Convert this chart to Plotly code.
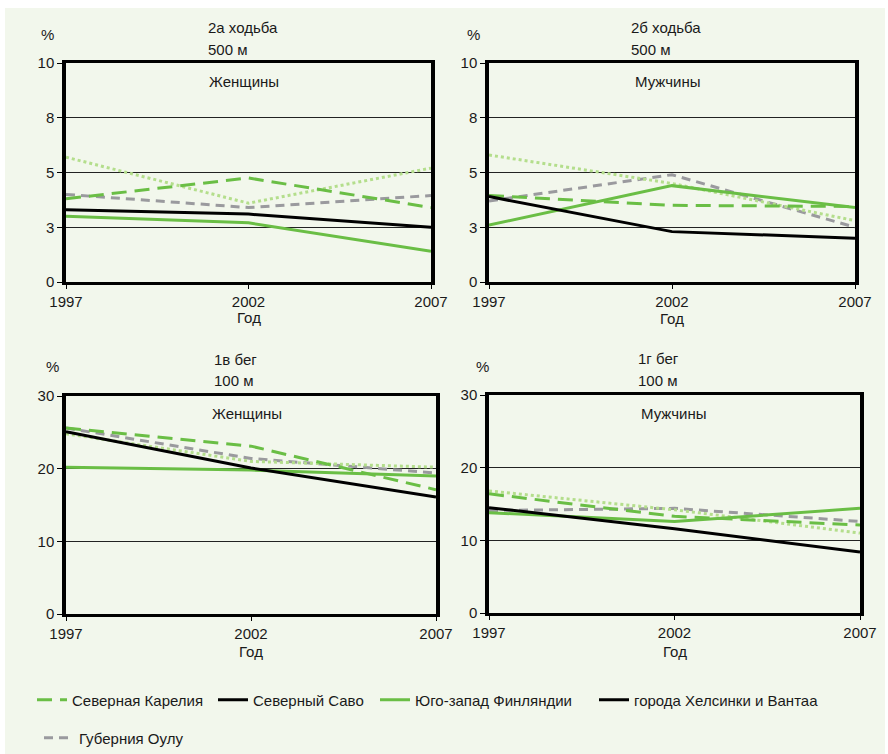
import plotly.graph_objects as go

# Survey years (x axis)
years = [1997, 2002, 2007]

# Series names
regions = ["Северная Карелия", "Северный Саво", "Юго-запад Финляндии",
           "города Хелсинки и Вантаа", "Губерния Оулу"]

# 2а: walking 500 m, women (%)
walk_w_karelia = [3.8, 4.75, 3.4]
walk_w_savo = [3.3, 3.1, 2.5]
walk_w_southwest = [3.0, 2.7, 1.4]
walk_w_helsinki = [5.7, 3.6, 5.2]
walk_w_oulu = [4.0, 3.4, 3.95]

# 2б: walking 500 m, men (%)
walk_m_karelia = [3.95, 3.5, 3.45]
walk_m_savo = [3.9, 2.3, 2.0]
walk_m_southwest = [2.6, 4.4, 3.4]
walk_m_helsinki = [5.8, 4.5, 2.8]
walk_m_oulu = [3.7, 4.9, 2.5]

# 1в: running 100 m, women (%)
run_w_karelia = [25.6, 23.1, 17.1]
run_w_savo = [25.1, 20.1, 16.1]
run_w_southwest = [20.2, 19.8, 19.0]
run_w_helsinki = [24.8, 21.0, 20.2]
run_w_oulu = [25.6, 21.4, 19.4]

# 1г: running 100 m, men (%)
run_m_karelia = [16.4, 13.3, 12.1]
run_m_savo = [14.5, 11.6, 8.4]
run_m_southwest = [13.8, 12.6, 14.4]
run_m_helsinki = [16.8, 14.2, 11.0]
run_m_oulu = [14.1, 14.4, 12.6]

# Axis tick labels
walk_tickvals = [0, 2.5, 5, 7.5, 10]
walk_ticktext = ["0", "3", "5", "8", "10"]
run_tickvals = [0, 10, 20, 30]
run_ticktext = ["0", "10", "20", "30"]

W, H = 888, 754
FONT = "Liberation Sans, Arial, sans-serif"
FS = 15
TXT = "#1a1a1a"
BG = "#f2f7ec"

GREEN = "#6abe45"
LIGHT = "#b4de8c"
GREY = "#9a9a9e"
BLACK = "#000000"


def fx(px):
    return px / W


def fy(py):
    return 1 - py / H


# line styles per region: (colour, dash)
styles = {
    "Северная Карелия": (GREEN, "15px,8px"),
    "Северный Саво": (BLACK, "solid"),
    "Юго-запад Финляндии": (GREEN, "solid"),
    "города Хелсинки и Вантаа": (LIGHT, "dot"),
    "Губерния Оулу": (GREY, "9px,6px"),
}
legend_ids = {
    "Северная Карелия": "legend",
    "Северный Саво": "legend2",
    "Юго-запад Финляндии": "legend3",
    "города Хелсинки и Вантаа": "legend4",
    "Губерния Оулу": "legend5",
}

panels = [
    dict(ax="", series={"Северная Карелия": walk_w_karelia, "Северный Саво": walk_w_savo,
                        "Юго-запад Финляндии": walk_w_southwest,
                        "города Хелсинки и Вантаа": walk_w_helsinki, "Губерния Оулу": walk_w_oulu},
         px=(66, 431), py=(63, 282), ymax=10, tv=walk_tickvals, tt=walk_ticktext,
         title=("2а ходьба", "500 м"), tpos=(206, 27, 49), sub="Женщины", spos=(207, 81),
         pct=(47, 34), god=(317,)),
    dict(ax="2", series={"Северная Карелия": walk_m_karelia, "Северный Саво": walk_m_savo,
                         "Юго-запад Финляндии": walk_m_southwest,
                         "города Хелсинки и Вантаа": walk_m_helsinki, "Губерния Оулу": walk_m_oulu},
         px=(489, 855), py=(63, 282), ymax=10, tv=walk_tickvals, tt=walk_ticktext,
         title=("2б ходьба", "500 м"), tpos=(629, 27, 49), sub="Мужчины", spos=(633, 81),
         pct=(473, 34), god=(318,)),
    dict(ax="3", series={"Северная Карелия": run_w_karelia, "Северный Саво": run_w_savo,
                         "Юго-запад Финляндии": run_w_southwest,
                         "города Хелсинки и Вантаа": run_w_helsinki, "Губерния Оулу": run_w_oulu},
         px=(66, 436), py=(396, 614), ymax=30, tv=run_tickvals, tt=run_ticktext,
         title=("1в бег", "100 м"), tpos=(212, 359, 380), sub="Женщины", spos=(210, 413),
         pct=(52, 366), god=(651,)),
    dict(ax="4", series={"Северная Карелия": run_m_karelia, "Северный Саво": run_m_savo,
                         "Юго-запад Финляндии": run_m_southwest,
                         "города Хелсинки и Вантаа": run_m_helsinki, "Губерния Оулу": run_m_oulu},
         px=(489, 860), py=(395, 613), ymax=30, tv=run_tickvals, tt=run_ticktext,
         title=("1г бег", "100 м"), tpos=(636, 358, 380), sub="Мужчины", spos=(639, 413),
         pct=(482, 366), god=(651,)),
]

draw_order = ["Губерния Оулу", "города Хелсинки и Вантаа", "Северная Карелия",
              "Юго-запад Финляндии", "Северный Саво"]

fig = go.Figure()
annotations = []
layout_axes = {}


def label(text, x, y, xref="paper", xanchor="left"):
    return dict(text=text, x=x, y=y, xref=xref, yref="paper", xanchor=xanchor,
                yanchor="middle", showarrow=False,
                font=dict(family=FONT, size=FS, color=TXT))


for i, p in enumerate(panels):
    xa = "x" + p["ax"]
    ya = "y" + p["ax"]
    for name in draw_order:
        colour, dash = styles[name]
        show = (i == 0) and name != "города Хелсинки и Вантаа"
        fig.add_trace(go.Scatter(
            x=years, y=p["series"][name], name=name, mode="lines",
            line=dict(color=colour, width=3, dash=dash),
            xaxis=xa, yaxis=ya, showlegend=show, legend=legend_ids[name],
            legendgroup=name, hoverinfo="x+y+name",
        ))

    key = p["ax"]
    layout_axes["xaxis" + key] = dict(
        domain=[fx(p["px"][0]), fx(p["px"][1])], anchor=ya, range=[1997, 2007],
        tickvals=years, ticktext=[str(y) for y in years],
        showline=True, linecolor=BLACK, linewidth=2.5, mirror=True,
        ticks="outside", ticklen=4, tickcolor=BLACK, tickwidth=1,
        showgrid=False, zeroline=False, automargin=False,
        tickfont=dict(family=FONT, size=FS, color=TXT), fixedrange=True,
    )
    layout_axes["yaxis" + key] = dict(
        domain=[fy(p["py"][1]), fy(p["py"][0])], anchor=xa, range=[0, p["ymax"]],
        tickvals=p["tv"], ticktext=p["tt"],
        showline=True, linecolor=BLACK, linewidth=3.5, mirror=True,
        ticks="outside", ticklen=5, tickcolor=BLACK, tickwidth=1,
        showgrid=True, gridcolor="#222222", gridwidth=1, zeroline=False, automargin=False,
        tickfont=dict(family=FONT, size=FS, color=TXT), fixedrange=True,
    )

    # panel headings and axis captions
    annotations.append(label(p["title"][0], fx(p["tpos"][0]), fy(p["tpos"][1])))
    annotations.append(label(p["title"][1], fx(p["tpos"][0]), fy(p["tpos"][2])))
    annotations.append(label(p["sub"], fx(p["spos"][0]), fy(p["spos"][1])))
    annotations.append(label("%", fx(p["pct"][0]), fy(p["pct"][1]), xanchor="center"))
    annotations.append(label("Год", 2002, fy(p["god"][0]), xref=xa, xanchor="center"))

# legend-only entry for the Helsinki/Vantaa series
fig.add_trace(go.Scatter(
    x=[None], y=[None], name="города Хелсинки и Вантаа", mode="lines",
    line=dict(color=BLACK, width=3), showlegend=True, legend="legend4",
    legendgroup="города Хелсинки и Вантаа", hoverinfo="skip",
))

legend_base = dict(orientation="h", xanchor="left", yanchor="middle",
                   bgcolor="rgba(0,0,0,0)", borderwidth=0,
                   font=dict(family=FONT, size=FS, color=TXT))
legend_pos = {
    "legend": (32, 700),
    "legend2": (213, 700),
    "legend3": (375, 700),
    "legend4": (594, 700),
    "legend5": (39, 738),
}
for lid, (lx, ly) in legend_pos.items():
    layout_axes[lid] = dict(legend_base, x=fx(lx), y=fy(ly))

fig.update_layout(
    width=W, height=H,
    margin=dict(l=0, r=0, t=0, b=0, autoexpand=False),
    paper_bgcolor="white",
    plot_bgcolor="rgba(0,0,0,0)",
    font=dict(family=FONT, size=FS, color=TXT),
    annotations=annotations,
    shapes=[dict(type="rect", xref="paper", yref="paper",
                 x0=fx(5), x1=fx(885), y0=0, y1=fy(8),
                 fillcolor=BG, line=dict(width=0), layer="below")],
    **layout_axes,
)

fig.write_html("out.html")
